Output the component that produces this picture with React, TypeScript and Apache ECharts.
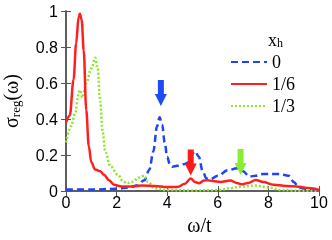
import React, { useEffect, useRef } from 'react';
import * as echarts from 'echarts';

const xTicks = [0, 2, 4, 6, 8, 10];
const yTicks = [0, 0.2, 0.4, 0.6, 0.8, 1];
const seriesNames = ['0', '1/6', '1/3'];

const blueX = [0, 1, 2, 2.5, 2.8, 3.1, 3.3, 3.45, 3.6, 3.7, 3.8, 3.9, 4.0, 4.1, 4.2, 4.4, 4.7, 4.85, 5.0, 5.1, 5.25, 5.4, 5.55, 5.7, 6.0, 6.4, 6.75, 7.0, 7.25, 7.5, 7.8, 8.4, 8.8, 9.0, 9.2, 9.5, 10];
const blueY = [0.008, 0.008, 0.012, 0.02, 0.03, 0.06, 0.12, 0.22, 0.36, 0.41, 0.37, 0.27, 0.19, 0.15, 0.135, 0.14, 0.15, 0.16, 0.21, 0.22, 0.19, 0.11, 0.07, 0.065, 0.085, 0.115, 0.126, 0.11, 0.08, 0.085, 0.095, 0.095, 0.085, 0.05, 0.02, 0.01, 0.005];

const redX = [0, 0.15, 0.3, 0.4, 0.5, 0.55, 0.62, 0.7, 0.8, 0.9, 1.0, 1.15, 1.35, 1.5, 1.7, 1.9, 2.2, 2.6, 3.0, 3.5, 4.0, 4.4, 4.7, 4.93, 5.1, 5.25, 5.45, 5.6, 5.8, 6.1, 6.5, 6.75, 6.95, 7.2, 7.5, 7.8, 8.2, 8.7, 9.2, 9.6, 10];
const redY = [0.38, 0.42, 0.62, 0.82, 0.97, 0.985, 0.95, 0.78, 0.45, 0.25, 0.16, 0.12, 0.11, 0.09, 0.06, 0.035, 0.025, 0.025, 0.03, 0.028, 0.022, 0.022, 0.04, 0.07, 0.05, 0.043, 0.058, 0.06, 0.055, 0.05, 0.058, 0.045, 0.037, 0.045, 0.061, 0.05, 0.035, 0.028, 0.024, 0.016, 0.006];

const greenX = [0, 0.2, 0.36, 0.5, 0.55, 0.65, 0.8, 1.0, 1.15, 1.25, 1.35, 1.45, 1.55, 1.75, 2.05, 2.25, 2.4, 2.6, 2.9, 3.1, 3.25, 3.5, 4, 5, 6, 6.5, 6.9, 7.5, 8, 8.5, 9, 10];
const greenY = [0.27, 0.36, 0.43, 0.54, 0.56, 0.52, 0.6, 0.68, 0.74, 0.68, 0.5, 0.33, 0.22, 0.14, 0.09, 0.055, 0.043, 0.05, 0.075, 0.085, 0.05, 0.015, 0.005, 0.003, 0.005, 0.015, 0.024, 0.03, 0.02, 0.005, 0.002, 0];

const arrowX = [3.75, 4.93, 6.9];
const arrowY = [0.544, 0.158, 0.161];

const colors = ['#1f45f2', '#ff1f1f', '#8ce62e'];
const arrowColors = ['#1f4bf5', '#ff1a1a', '#88ee33'];

const zip = (xs: number[], ys: number[]) => xs.map((x, i) => [x, ys[i]]);

const arrowPath = 'path://M3,0 L9,0 L9,14 L12,14 L6,26 L0,14 L3,14 Z';

export default function App() {
  const ref = useRef<HTMLDivElement>(null);
  useEffect(() => {
    if (!ref.current) return;
    const chart = echarts.init(ref.current, null, { renderer: 'svg' });
    const axisColor = '#555';
    const tickFont = { fontFamily: 'Liberation Sans', fontSize: 16, color: '#000' };
    const serif = 'Liberation Serif';
    const datas = [zip(blueX, blueY), zip(redX, redY), zip(greenX, greenY)];
    const lineStyles = [
      { color: colors[0], width: 2.5, type: [7, 4] as any },
      { color: colors[1], width: 2.5, type: 'solid' as any },
      { color: colors[2], width: 2.5, type: [2, 2] as any },
    ];
    chart.setOption({
      animation: false,
      grid: { left: 66, right: 13, top: 11, bottom: 49, containLabel: false, outerBoundsMode: 'none' },
      legend: {
        left: 225,
        top: 48,
        orient: 'vertical',
        itemWidth: 36,
        itemHeight: 14,
        itemGap: 4,
        data: seriesNames,
        itemStyle: { color: 'transparent', borderColor: 'transparent', borderWidth: 0, opacity: 0 },
        textStyle: { fontFamily: serif, fontSize: 18, color: '#000' },
      },
      graphic: [
        {
          type: 'text',
          left: 268,
          top: 31,
          style: {
            text: '{a|x}{b|h}',
            rich: {
              a: { fontFamily: serif, fontSize: 18, fill: '#000', lineHeight: 18 },
              b: { fontFamily: serif, fontSize: 12, fill: '#000', verticalAlign: 'bottom', lineHeight: 10 },
            },
          },
        },
      ],
      xAxis: [
        {
          type: 'value',
          min: 0,
          max: 10,
          interval: 2,
          axisLine: { show: true, lineStyle: { color: axisColor, width: 1.5 } },
          axisTick: { show: true, inside: true, length: 5, lineStyle: { color: axisColor } },
          axisLabel: { ...tickFont, margin: 3, formatter: (v: number) => (xTicks.includes(v) ? String(v) : '') },
          splitLine: { show: false },
          name: 'ω/t',
          nameLocation: 'middle',
          nameGap: 24,
          nameTextStyle: { fontFamily: serif, fontSize: 20, color: '#000', padding: [0, 0, 0, 14] },
        },
        {
          type: 'value',
          position: 'top',
          min: 0,
          max: 10,
          interval: 2,
          axisLine: { show: true, lineStyle: { color: axisColor, width: 1.5 } },
          axisTick: { show: true, inside: true, length: 5, lineStyle: { color: axisColor } },
          axisLabel: { show: false },
          splitLine: { show: false },
        },
      ],
      yAxis: [
        {
          type: 'value',
          min: 0,
          max: 1,
          interval: 0.2,
          axisLine: { show: true, lineStyle: { color: axisColor, width: 1.5 } },
          axisTick: { show: true, inside: true, length: 5, lineStyle: { color: axisColor } },
          axisLabel: { ...tickFont, margin: 8, formatter: (v: number) => {
            const t = yTicks.find((y) => Math.abs(y - v) < 1e-9);
            return t === undefined ? '' : String(Math.round(t * 10) / 10);
          } },
          splitLine: { show: false },
          name: '{s|σ}{r|reg}{s|(ω)}',
          nameLocation: 'middle',
          nameGap: 44,
          nameTextStyle: {
            rich: {
              s: { fontFamily: serif, fontSize: 20, color: '#000', lineHeight: 22 },
              r: { fontFamily: serif, fontSize: 13, color: '#000', lineHeight: 12, verticalAlign: 'bottom' },
            },
          },
        },
        {
          type: 'value',
          position: 'right',
          min: 0,
          max: 1,
          interval: 0.2,
          axisLine: { show: true, lineStyle: { color: axisColor, width: 1.5 } },
          axisTick: { show: true, inside: true, length: 5, lineStyle: { color: axisColor } },
          axisLabel: { show: false },
          splitLine: { show: false },
        },
      ],
      series: seriesNames.map((name, i) => ({
        name,
        type: 'line',
        xAxisIndex: 0,
        yAxisIndex: 0,
        data: datas[i],
        symbol: 'none',
        showSymbol: false,
        smooth: 0.35,
        smoothMonotone: 'x',
        color: colors[i],
        lineStyle: lineStyles[i],
        z: i === 1 ? 3 : 2,
        markPoint: {
          symbol: arrowPath,
          symbolSize: [12, 26],
          label: { show: false },
          itemStyle: { color: arrowColors[i] },
          data: [{ coord: [arrowX[i], arrowY[i]] }],
        },
      })),
    });
    return () => chart.dispose();
  }, []);
  return <div ref={ref} style={{ position: 'fixed', left: 0, top: 0, width: 332, height: 240 }} />;
}
